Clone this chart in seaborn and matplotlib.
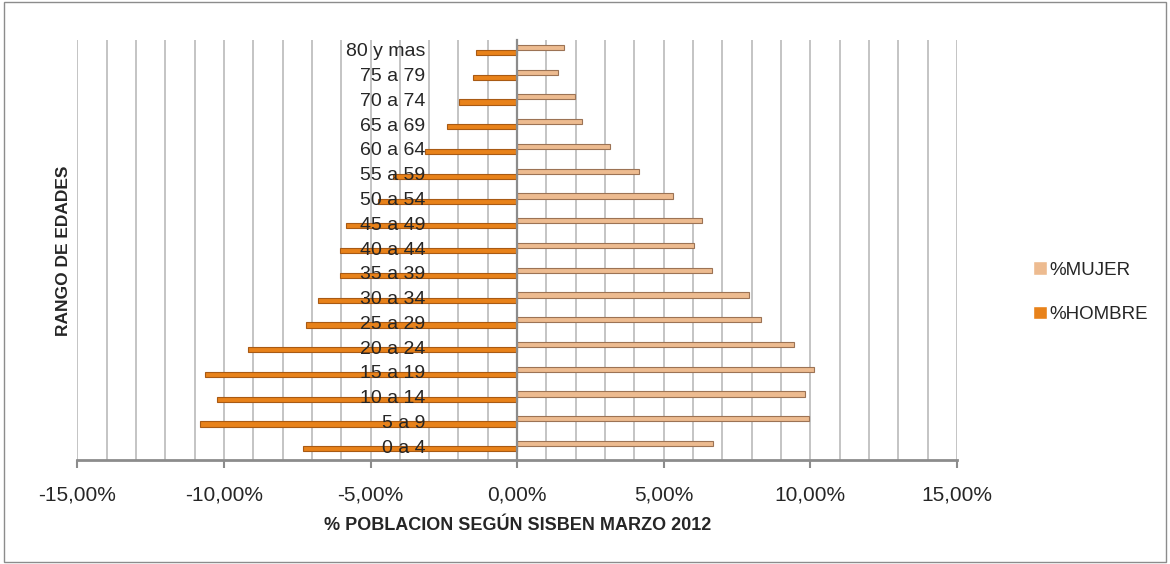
import matplotlib
matplotlib.use("Agg")
import matplotlib.pyplot as plt
from matplotlib.ticker import FuncFormatter
from matplotlib.patches import Rectangle
import seaborn as sns
import pandas as pd
import numpy as np

# -----------------------------
# Data (% of population)
# -----------------------------
edades = ['80 y mas', '75 a 79', '70 a 74', '65 a 69', '60 a 64', '55 a 59',
          '50 a 54', '45 a 49', '40 a 44', '35 a 39', '30 a 34', '25 a 29',
          '20 a 24', '15 a 19', '10 a 14', '5 a 9', '0 a 4']
hombre = [-1.41, -1.49, -1.98, -2.38, -3.14, -4.22, -4.73, -5.83, -6.03, -6.03,
          -6.80, -7.19, -9.17, -10.64, -10.23, -10.81, -7.29]
mujer = [1.61, 1.39, 1.97, 2.22, 3.17, 4.17, 5.33, 6.30, 6.03, 6.66,
         7.92, 8.33, 9.44, 10.13, 9.81, 9.94, 6.67]
series = ['%MUJER', '%HOMBRE']

df = pd.DataFrame({
    'edad': edades * 2,
    'valor': mujer + hombre,
    'serie': [series[0]] * len(edades) + [series[1]] * len(edades),
})

# -----------------------------
# Plot
# -----------------------------
sns.set_style('white')
plt.rcParams['font.family'] = ['Liberation Sans', 'DejaVu Sans']

fig = plt.figure(figsize=(11.7, 5.64), dpi=100)
ax = fig.add_axes([0.066, 0.184, 0.752, 0.745])

colors = {'%MUJER': '#EDBB90', '%HOMBRE': '#E8821A'}
edges = {'%MUJER': '#9C7355', '%HOMBRE': '#A85A14'}

sns.barplot(data=df, x='valor', y='edad', hue='serie', order=edades,
            hue_order=series, palette=colors, orient='h', width=0.42,
            errorbar=None, ax=ax, saturation=1)

for cont, name in zip(ax.containers, series):
    for bar in cont:
        bar.set_edgecolor(edges[name])
        bar.set_linewidth(0.8)

# x axis: -15% .. 15%, grid every 1%
ax.set_xlim(-15, 15)
ax.set_xticks(np.arange(-15, 16, 5))
ax.set_xticks(np.arange(-15, 16, 1), minor=True)
ax.xaxis.set_major_formatter(FuncFormatter(lambda v, p: f'{v:.2f}%'.replace('.', ',')))
ax.grid(which='both', axis='x', color='#B4B4B4', linewidth=1.1)
ax.tick_params(axis='x', which='major', length=6, width=1.5, color='#8C8C8C',
               labelsize=15, pad=12, bottom=True)
ax.tick_params(axis='x', which='minor', length=0)

ax.set_ylim(len(edades) - 0.43, -0.4)
ax.spines['left'].set_position(('data', 0))
ax.spines['left'].set_color('#8C8C8C')
ax.spines['left'].set_linewidth(1.6)
ax.spines['bottom'].set_color('#8C8C8C')
ax.spines['bottom'].set_linewidth(2)
ax.spines['top'].set_visible(False)
ax.spines['right'].set_visible(False)
ax.tick_params(axis='y', length=0, labelsize=14, pad=66)

ax.set_axisbelow(True)
ax.yaxis.set_zorder(5)

ax.set_xlabel('% POBLACION SEGÚN SISBEN MARZO 2012', fontsize=13,
              fontweight='bold', labelpad=9)
ax.set_ylabel('')
fig.text(0.054, 0.555, 'RANGO DE EDADES', rotation=90, fontsize=12.5,
         fontweight='bold', ha='center', va='center')

sns.move_legend(ax, 'center left', bbox_to_anchor=(1.086, 0.40), frameon=False,
                title=None, fontsize=13.5, handlelength=0.75, handleheight=0.75,
                handletextpad=0.15, labelspacing=1.45, borderpad=0,
                borderaxespad=0)

fig.patches.append(Rectangle((0.003, 0.003), 0.994, 0.994, transform=fig.transFigure,
                             fill=False, edgecolor='#8C8C8C', linewidth=1))

plt.savefig('out.png', dpi=100)
plt.close()
